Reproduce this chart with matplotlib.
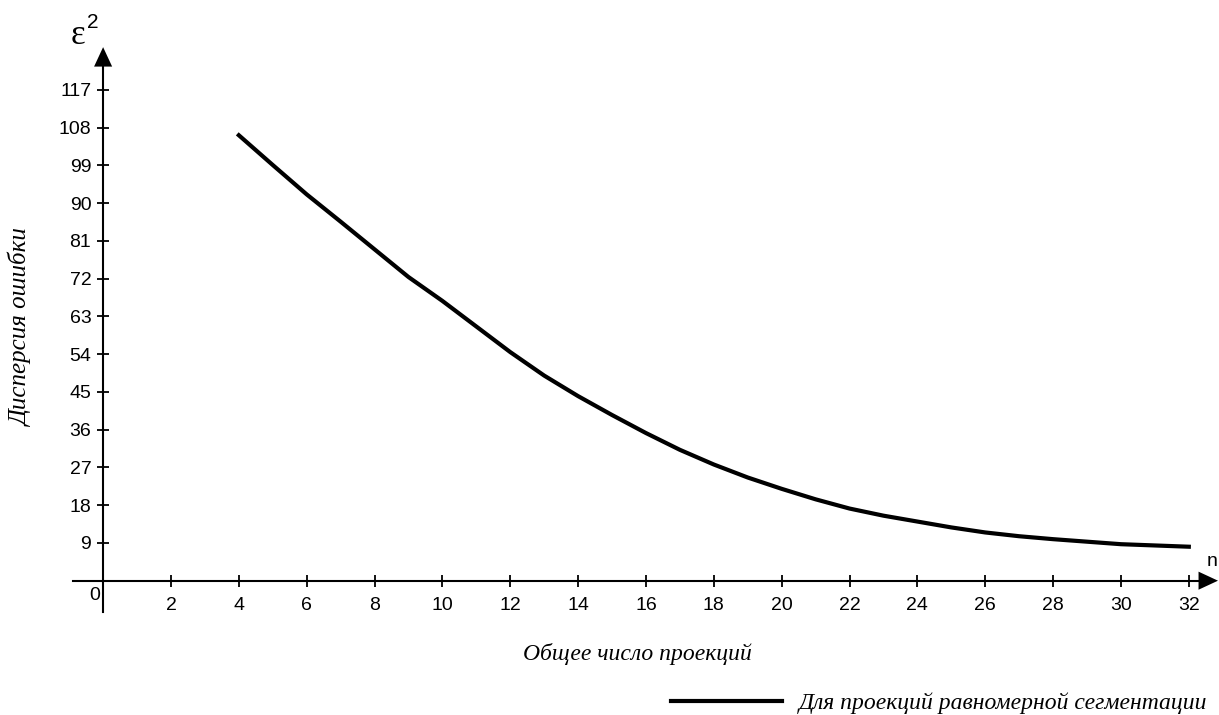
import matplotlib
matplotlib.use('Agg')
import matplotlib.pyplot as plt

# Значения
n = [4, 5, 6, 7, 8, 9, 10, 11, 12, 13, 14, 15, 16, 17, 18,
     19, 20, 21, 22, 23, 24, 25, 26, 27, 28, 29, 30, 31, 32]
eps2 = [106.2, 99.1, 92.1, 85.6, 79.0, 72.4, 66.7, 60.6, 54.5, 48.9, 44.0,
        39.5, 35.2, 31.2, 27.7, 24.6, 21.9, 19.4, 17.2, 15.5, 14.1, 12.7,
        11.5, 10.6, 9.9, 9.3, 8.7, 8.4, 8.1]
x_ticks = list(range(2, 33, 2))
y_ticks = list(range(9, 118, 9))

W, H = 1219, 715
plt.rcParams['font.family'] = ['Liberation Sans', 'DejaVu Sans']
serif_it = dict(family=['Liberation Serif', 'DejaVu Serif'], style='italic')

fig = plt.figure(figsize=(W / 100, H / 100), dpi=100)
ax = fig.add_axes([0, 0, 1, 1])
ax.set_xlim(-3.039, 32.89)
ax.set_ylim(-32.02, 138.44)

# оси через начало координат
for s in ['top', 'right']:
    ax.spines[s].set_visible(False)
ax.spines['left'].set_position(('data', 0))
ax.spines['bottom'].set_position(('data', 0))
ax.spines['left'].set_bounds(-7.4, 122.7)
ax.spines['bottom'].set_bounds(-0.89, 32.33)
ax.spines['left'].set_linewidth(1.5)
ax.spines['bottom'].set_linewidth(1.5)

ax.set_xticks(x_ticks)
ax.set_yticks(y_ticks)
ax.tick_params(direction='inout', length=9, width=1.3, labelsize=14, colors='k')
ax.tick_params(axis='x', pad=7)
ax.tick_params(axis='y', pad=4)

# стрелки
arr = dict(facecolor='k', edgecolor='none', width=0.1, headwidth=13,
           headlength=14, shrink=0)
ax.annotate('', xy=(0, 127.2), xytext=(0, 122.5), arrowprops=arr,
            annotation_clip=False)
ax.annotate('', xy=(32.86, 0), xytext=(32.30, 0), arrowprops=arr,
            annotation_clip=False)

line, = ax.plot(n, eps2, color='k', lw=3)

def px(x, y):
    return x / W, 1 - y / H

fig.text(*px(95, 595), '0', fontsize=14, ha='center', va='center')
fig.text(*px(1212, 562), 'n', fontsize=14, ha='center', va='center')
fig.text(*px(78, 36), 'ε', fontsize=25, ha='center', va='center',
         family=['Liberation Serif', 'DejaVu Serif'])
fig.text(*px(93, 22), '2', fontsize=15, ha='center', va='center')

fig.text(*px(21, 327), 'Дисперсия ошибки', rotation=90, fontsize=18,
         ha='center', va='center', **serif_it)
fig.text(*px(637, 654), 'Общее число проекций', fontsize=17,
         ha='center', va='center', **serif_it)

leg = ax.legend([line], ['Для проекций равномерной сегментации'],
                loc='center left', bbox_to_anchor=px(671, 703),
                bbox_transform=fig.transFigure, frameon=False,
                borderpad=0, borderaxespad=0, handlelength=4.7,
                handletextpad=0.72, prop=dict(size=17, **serif_it))

fig.savefig('out.png', dpi=100)
